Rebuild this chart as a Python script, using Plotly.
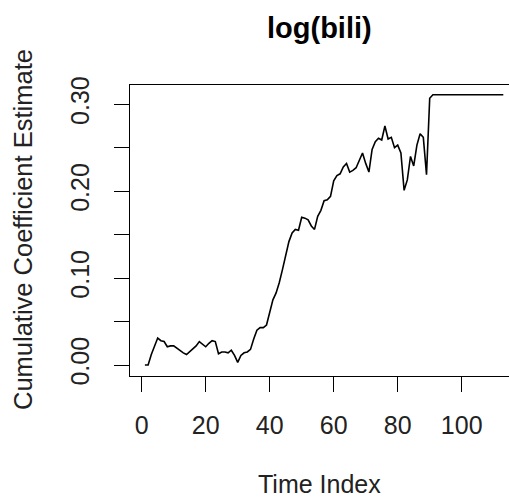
import plotly.graph_objects as go

# Cumulative coefficient estimate for log(bili) by time index
time_index = list(range(1, 114))
cum_coef = [
    0.000, 0.000, 0.012, 0.022, 0.031, 0.028, 0.027, 0.021, 0.022, 0.022,
    0.019, 0.016, 0.014, 0.012, 0.015, 0.019, 0.022, 0.027, 0.024, 0.021,
    0.025, 0.028, 0.027, 0.013, 0.015, 0.015, 0.014, 0.017, 0.011, 0.003,
    0.011, 0.014, 0.015, 0.018, 0.030, 0.040, 0.043, 0.043, 0.046, 0.062,
    0.075, 0.083, 0.095, 0.110, 0.128, 0.142, 0.152, 0.156, 0.155, 0.170,
    0.169, 0.167, 0.160, 0.156, 0.171, 0.178, 0.189, 0.190, 0.194, 0.212,
    0.218, 0.220, 0.228, 0.232, 0.222, 0.224, 0.227, 0.236, 0.244, 0.232,
    0.222, 0.248, 0.257, 0.261, 0.259, 0.275, 0.260, 0.262, 0.250, 0.253,
    0.244, 0.201, 0.213, 0.240, 0.229, 0.253, 0.266, 0.262, 0.219, 0.307,
    0.311, 0.311, 0.311, 0.311, 0.311, 0.311, 0.311, 0.311, 0.311, 0.311,
    0.311, 0.311, 0.311, 0.311, 0.311, 0.311, 0.311, 0.311, 0.311, 0.311,
    0.311, 0.311, 0.311,
]

x_ticks = [0, 20, 40, 60, 80, 100]
y_ticks = [0.00, 0.05, 0.10, 0.15, 0.20, 0.25, 0.30]
y_tick_text = ["0.00", "", "0.10", "", "0.20", "", "0.30"]

FONT = "Liberation Sans, Arial, sans-serif"
AXIS_SIZE = 25

fig = go.Figure(
    go.Scatter(
        x=time_index, y=cum_coef, mode="lines",
        line=dict(color="black", width=1.6),
        hoverinfo="skip",
    )
)

axis_common = dict(
    showgrid=False, zeroline=False, showline=True, linecolor="black",
    linewidth=1.3, ticks="outside", ticklen=15, tickwidth=1.3,
    tickcolor="black", tickfont=dict(family=FONT, size=AXIS_SIZE, color="#222"),
)

fig.update_xaxes(
    range=[-3.66, 114.78], tickvals=x_ticks, mirror=True,
    ticklabelstandoff=12, **axis_common,
)
fig.update_yaxes(
    range=[-0.01266, 0.3222], tickvals=y_ticks, ticktext=y_tick_text,
    tickangle=-90, ticklabelstandoff=15, **axis_common,
)

annotations = [
    dict(text="<b>log(bili)</b>", x=0.501, y=1.196, xref="paper", yref="paper",
         xanchor="center", yanchor="middle", showarrow=False,
         font=dict(family=FONT, size=29, color="black")),
    dict(text="Time Index", x=0.501, y=-0.371, xref="paper", yref="paper",
         xanchor="center", yanchor="middle", showarrow=False,
         font=dict(family=FONT, size=AXIS_SIZE, color="#222")),
    dict(text="Cumulative Coefficient Estimate", x=-0.282, y=0.502,
         xref="paper", yref="paper", xanchor="center", yanchor="middle",
         textangle=-90, showarrow=False,
         font=dict(family=FONT, size=25.5, color="#222")),
]

fig.update_layout(
    width=509, height=504,
    margin=dict(l=130, r=0, t=85, b=128, pad=0),
    paper_bgcolor="white", plot_bgcolor="white",
    showlegend=False, annotations=annotations,
)

fig.write_html("out.html")
